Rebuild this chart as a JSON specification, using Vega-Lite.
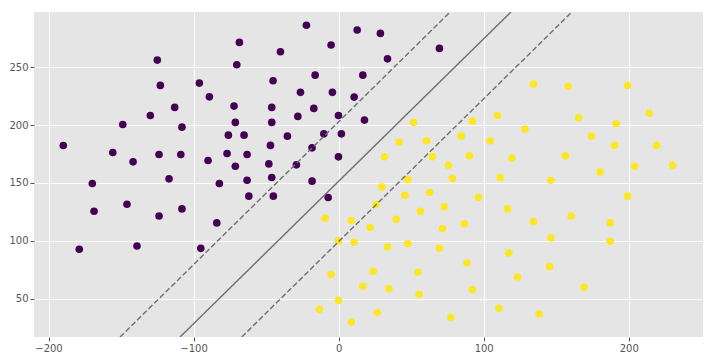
{
  "$schema": "https://vega.github.io/schema/vega-lite/v6.json",
  "autosize": {"type": "none"},
  "padding": {"left": 34, "top": 12, "right": 10, "bottom": 24},
  "width": 669,
  "height": 325,
  "background": "white",
  "config": {
    "view": {"fill": "#E5E5E5", "stroke": null},
    "axis": {
      "domain": false,
      "grid": true,
      "gridColor": "white",
      "gridWidth": 1,
      "tickColor": "#555555",
      "tickSize": 4,
      "labelColor": "#555555",
      "labelFont": "DejaVu Sans",
      "labelFontSize": 10,
      "title": null
    }
  },
  "datasets": {
    "pts": [
      {"x":-189.8,"y":182.4,"c":0},{"x":-155.7,"y":176.4,"c":0},{"x":-148.8,"y":200.6,"c":0},{"x":-141.7,"y":168.3,"c":0},{"x":-129.8,"y":208.4,"c":0},{"x":-125,"y":256.3,"c":0},{"x":-122.9,"y":234.4,"c":0},{"x":-123.8,"y":174.7,"c":0},{"x":-113,"y":215.4,"c":0},{"x":-108,"y":198.3,"c":0},{"x":-108.8,"y":174.7,"c":0},{"x":-116.9,"y":153.6,"c":0},{"x":-96,"y":236.4,"c":0},{"x":-89.1,"y":224.5,"c":0},{"x":-90,"y":169.5,"c":0},{"x":-72.1,"y":216.5,"c":0},{"x":-71.2,"y":202.4,"c":0},{"x":-76,"y":191.4,"c":0},{"x":-76.9,"y":175.5,"c":0},{"x":-71.2,"y":164.5,"c":0},{"x":-70.2,"y":252.3,"c":0},{"x":-68.4,"y":271.6,"c":0},
      {"x":-169.8,"y":149.6,"c":0},{"x":-168.6,"y":125.6,"c":0},{"x":-145.9,"y":131.6,"c":0},{"x":-178.8,"y":92.7,"c":0},{"x":-139,"y":95.5,"c":0},{"x":-123.8,"y":121.5,"c":0},{"x":-108,"y":127.6,"c":0},{"x":-95,"y":93.5,"c":0},{"x":-82.2,"y":149.6,"c":0},{"x":-84,"y":115.5,"c":0},
      {"x":-22.2,"y":286.4,"c":0},{"x":-40.1,"y":263.5,"c":0},{"x":-5.2,"y":269.3,"c":0},{"x":12.8,"y":282.3,"c":0},{"x":28.8,"y":279.4,"c":0},{"x":33.7,"y":257.4,"c":0},{"x":69.5,"y":266.4,"c":0},{"x":-45.2,"y":238.4,"c":0},{"x":-16.2,"y":243.3,"c":0},{"x":16.7,"y":243.3,"c":0},{"x":-26.3,"y":228.4,"c":0},{"x":-4.3,"y":228.4,"c":0},{"x":10.7,"y":224.3,"c":0},{"x":-46.1,"y":215.4,"c":0},{"x":-17.1,"y":214.5,"c":0},{"x":-46.1,"y":202.4,"c":0},{"x":-28.1,"y":207.6,"c":0},{"x":-0.1,"y":208.4,"c":0},{"x":17.8,"y":204.4,"c":0},{"x":-65.2,"y":191.4,"c":0},{"x":-35.3,"y":190.5,"c":0},{"x":-47,"y":182.5,"c":0},{"x":-10.2,"y":192.5,"c":0},{"x":1.9,"y":192.5,"c":0},{"x":-18.3,"y":180.4,"c":0},{"x":-63.1,"y":174.7,"c":0},{"x":-48.1,"y":166.5,"c":0},{"x":-29.1,"y":165.7,"c":0},{"x":-0.1,"y":172.6,"c":0},{"x":-46.1,"y":154.8,"c":0},{"x":-63.1,"y":152.4,"c":0},{"x":-18.3,"y":151.6,"c":0},{"x":-61.9,"y":138.6,"c":0},{"x":-45,"y":138.6,"c":0},{"x":-7.2,"y":137.4,"c":0},
      {"x":51.6,"y":202.4,"c":1},{"x":41.7,"y":185.3,"c":1},{"x":60.6,"y":186.5,"c":1},{"x":31.6,"y":172.6,"c":1},{"x":64.7,"y":172.6,"c":1},{"x":75.7,"y":165.4,"c":1},{"x":84.5,"y":190.5,"c":1},{"x":90.2,"y":173.5,"c":1},{"x":78.5,"y":153.9,"c":1},{"x":47.7,"y":153,"c":1},{"x":29.8,"y":146.6,"c":1},{"x":45.7,"y":139.4,"c":1},{"x":62.7,"y":141.8,"c":1},{"x":25.7,"y":131.4,"c":1},{"x":72.8,"y":129.6,"c":1},{"x":-9.3,"y":119.5,"c":1},{"x":8.8,"y":117.5,"c":1},{"x":39.7,"y":118.6,"c":1},{"x":56.4,"y":125.6,"c":1},{"x":21.7,"y":111.5,"c":1},{"x":71.6,"y":110.6,"c":1},{"x":86.6,"y":114.6,"c":1},{"x":-0.1,"y":99.9,"c":1},{"x":10.7,"y":98.7,"c":1},{"x":33.7,"y":94.7,"c":1},{"x":47.7,"y":97.6,"c":1},{"x":69.5,"y":93.5,"c":1},{"x":88.4,"y":80.8,"c":1},{"x":-5.2,"y":70.8,"c":1},{"x":23.8,"y":73.6,"c":1},{"x":54.6,"y":72.8,"c":1},{"x":16.7,"y":60.6,"c":1},{"x":34.6,"y":58.6,"c":1},{"x":55.5,"y":53.7,"c":1},{"x":-0.1,"y":48.5,"c":1},{"x":-13.2,"y":40.7,"c":1},{"x":26.6,"y":37.9,"c":1},{"x":77.4,"y":33.8,"c":1},{"x":8.8,"y":29.7,"c":1},
      {"x":92.3,"y":203.5,"c":1},{"x":134.3,"y":235.5,"c":1},{"x":158.3,"y":233.5,"c":1},{"x":199.2,"y":234.4,"c":1},{"x":109.5,"y":208.4,"c":1},{"x":165.4,"y":206.4,"c":1},{"x":214.1,"y":210.4,"c":1},{"x":191.4,"y":201.5,"c":1},{"x":128.4,"y":196.6,"c":1},{"x":104.5,"y":186.5,"c":1},{"x":174.3,"y":190.5,"c":1},{"x":190.2,"y":182.5,"c":1},{"x":219.2,"y":182.5,"c":1},{"x":119.4,"y":171.5,"c":1},{"x":156.4,"y":173.5,"c":1},{"x":204,"y":164.5,"c":1},{"x":230.2,"y":165.4,"c":1},{"x":180.3,"y":159.6,"c":1},{"x":111.4,"y":154.8,"c":1},{"x":146.3,"y":152.4,"c":1},
      {"x":199.2,"y":138.6,"c":1},{"x":96.4,"y":137.4,"c":1},{"x":116.4,"y":127.6,"c":1},{"x":134.3,"y":116.7,"c":1},{"x":160.3,"y":121.5,"c":1},{"x":187.2,"y":115.5,"c":1},{"x":146.3,"y":102.5,"c":1},{"x":187.2,"y":99.6,"c":1},{"x":117.4,"y":89.5,"c":1},{"x":145.4,"y":77.7,"c":1},{"x":123.3,"y":68.7,"c":1},{"x":169.3,"y":59.8,"c":1},{"x":92.3,"y":57.8,"c":1},{"x":110.5,"y":41.6,"c":1},{"x":138.3,"y":36.7,"c":1}
    ],
    "lines": [
      {"x":-109.3,"y":16.8,"line":"center","style":"solid"},
      {"x":118.8,"y":297.9,"line":"center","style":"solid"},
      {"x":-150.7,"y":16.8,"line":"upper","style":"dashed"},
      {"x":76.9,"y":297.9,"line":"upper","style":"dashed"},
      {"x":-66.8,"y":16.8,"line":"lower","style":"dashed"},
      {"x":160.8,"y":297.9,"line":"lower","style":"dashed"}
    ]
  },
  "layer": [
    {
      "data": {"name": "pts"},
      "mark": {"type": "point", "filled": true, "shape": "circle", "size": 58, "opacity": 1},
      "encoding": {
        "x": {"field": "x", "type": "quantitative", "scale": {"domain": [-210, 251.2], "nice": false, "zero": false}, "axis": {"values": [-200, -100, 0, 100, 200]}},
        "y": {"field": "y", "type": "quantitative", "scale": {"domain": [16.8, 297.9], "nice": false, "zero": false}, "axis": {"values": [50, 100, 150, 200, 250]}},
        "color": {"field": "c", "type": "nominal", "scale": {"domain": [0, 1], "range": ["#440154", "#fde725"]}, "legend": null}
      }
    },
    {
      "data": {"name": "lines"},
      "mark": {"type": "line", "color": "#6e6e6e", "strokeWidth": 1.4, "clip": true},
      "encoding": {
        "x": {"field": "x", "type": "quantitative"},
        "y": {"field": "y", "type": "quantitative"},
        "detail": {"field": "line", "type": "nominal"},
        "strokeDash": {"field": "style", "type": "nominal", "scale": {"domain": ["solid", "dashed"], "range": [[1, 0], [5.5, 2.5]]}, "legend": null}
      }
    }
  ]
}
